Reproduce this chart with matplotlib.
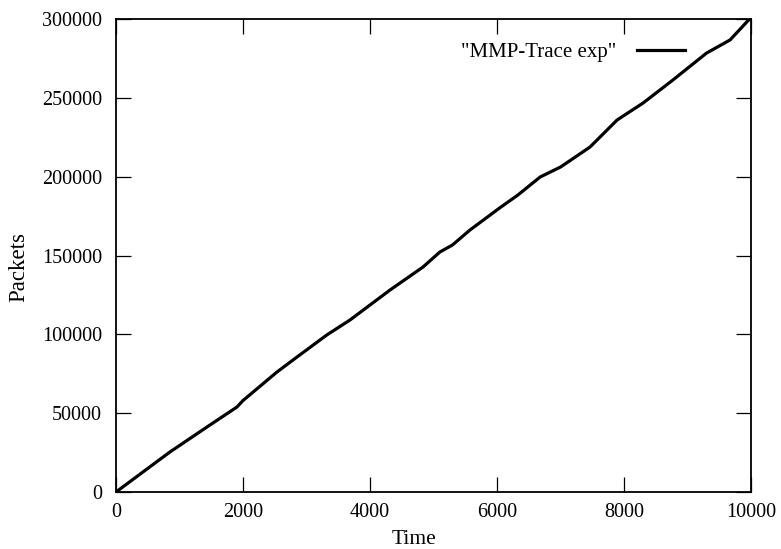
import matplotlib
matplotlib.use("Agg")
import matplotlib.pyplot as plt

# values
time = [0, 850, 1480, 1905, 2000, 2535, 2850, 3320, 3685, 4315, 4835,
        5100, 5300, 5575, 6050, 6330, 6680, 7000, 7465, 7890, 8300,
        8770, 9300, 9670, 10000]
packets = [0, 25400, 42500, 53900, 58000, 76100, 85600, 99600, 109100,
           128100, 142700, 152200, 156700, 166200, 180400, 188400, 199800,
           206100, 218800, 235900, 246700, 261300, 278400, 286700, 301000]
series_label = '"MMP-Trace exp"'
x_ticks = [0, 2000, 4000, 6000, 8000, 10000]
y_ticks = [0, 50000, 100000, 150000, 200000, 250000, 300000]

plt.rcParams["font.family"] = ["Liberation Serif", "DejaVu Serif"]

fig = plt.figure(figsize=(7.81, 5.49), dpi=100)
ax = fig.add_axes([0.1485, 0.1038, 0.8131, 0.8616])

ax.plot(time, packets, color="black", linewidth=2.3, label=series_label)

ax.set_xlim(0, 10000)
ax.set_ylim(0, 300000)
ax.set_xticks(x_ticks)
ax.set_yticks(y_ticks)
ax.set_xticklabels([str(v) for v in x_ticks])
ax.set_yticklabels([str(v) for v in y_ticks])

ax.tick_params(
    axis="both",
    direction="in",
    length=11,
    width=0.9,
    labelsize=14.5,
    top=True,
    right=True,
)
ax.tick_params(axis="x", pad=8)
ax.tick_params(axis="y", pad=10)

for spine in ax.spines.values():
    spine.set_linewidth(1.3)

ax.set_xlabel("Time", fontsize=15.5)
ax.set_ylabel("Packets", fontsize=16.5)
ax.xaxis.set_label_coords(0.469, -0.080)
ax.yaxis.set_label_coords(-0.137, 0.476)

ax.legend(
    loc="center right",
    bbox_to_anchor=(0.896, 0.930),
    frameon=False,
    markerfirst=False,
    handlelength=2.3,
    handletextpad=1.0,
    borderaxespad=0,
    borderpad=0,
    fontsize=15,
)

fig.savefig("out.png", dpi=100)
